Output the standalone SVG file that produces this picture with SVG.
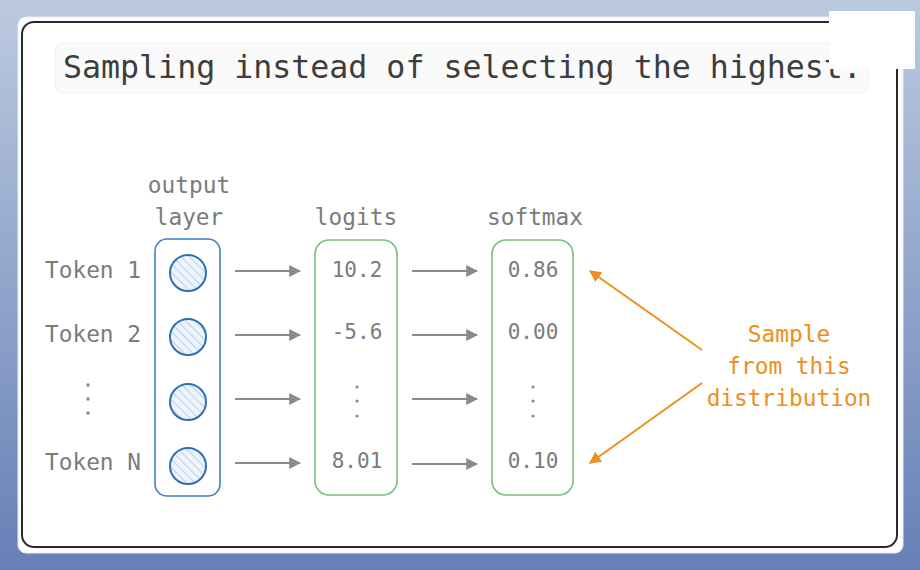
<svg xmlns="http://www.w3.org/2000/svg" width="920" height="570" viewBox="0 0 920 570">
<defs>
<linearGradient id="bg" x1="0" y1="0" x2="0" y2="1">
<stop offset="0" stop-color="#bccae0"/>
<stop offset="1" stop-color="#6680b6"/>
</linearGradient>
<pattern id="hatch" patternUnits="userSpaceOnUse" width="6" height="6" patternTransform="rotate(-45)">
<rect width="6" height="6" fill="#eef4fb"/>
<line x1="0" y1="0" x2="0" y2="6" stroke="#a9c7e8" stroke-width="1.6"/>
</pattern>
<marker id="ag" viewBox="0 0 10 10" refX="9" refY="5" markerWidth="6" markerHeight="6" orient="auto" markerUnits="strokeWidth">
<path d="M0,0 L10,5 L0,10 Z" fill="#8a8a8a"/>
</marker>
<marker id="ao" viewBox="0 0 10 10" refX="9" refY="5" markerWidth="6" markerHeight="6" orient="auto" markerUnits="strokeWidth">
<path d="M0,0 L10,5 L0,10 Z" fill="#ec8f1c"/>
</marker>
</defs>
<style>
.lbl{font-family:"DejaVu Sans Mono","Liberation Mono",monospace;font-size:22.8px;fill:#7b7b7b;text-anchor:middle}
.val{font-family:"DejaVu Sans Mono","Liberation Mono",monospace;font-size:21px;fill:#7b7b7b;text-anchor:middle}
.org{font-family:"DejaVu Sans Mono","Liberation Mono",monospace;font-size:22.8px;fill:#ec8f1c;text-anchor:middle}
.dot{fill:#8a8a8a}
.ga{stroke:#8a8a8a;stroke-width:2;fill:none;marker-end:url(#ag)}
.oa{stroke:#ec8f1c;stroke-width:2;fill:none;marker-end:url(#ao)}
.neuron{fill:url(#hatch);stroke:#2f6fb8;stroke-width:2}
.green{fill:none;stroke:#79c07b;stroke-width:1.6}
</style>
<rect width="920" height="570" fill="url(#bg)"/>
<rect x="18" y="17" width="885" height="536" rx="8" fill="#ffffff" stroke="#e6ebf3" stroke-width="1"/>
<rect x="22" y="22" width="875" height="525" rx="12" fill="#ffffff" stroke="#2a2a2a" stroke-width="2"/>

<g id="title">
<rect x="55" y="43" width="813" height="50" rx="8" fill="#fafafa" stroke="#efefef" stroke-width="1"/>
<text x="63" y="78" font-family="DejaVu Sans Mono, Liberation Mono, monospace" font-size="31.6" fill="#3d3d3d">Sampling instead of selecting the highest.</text>
</g>

<g id="tokens">
<text class="lbl" x="93" y="278">Token 1</text>
<text class="lbl" x="93" y="342">Token 2</text>
<circle class="dot" cx="88" cy="385" r="1.8"/>
<circle class="dot" cx="88" cy="399" r="1.8"/>
<circle class="dot" cx="88" cy="413" r="1.8"/>
<text class="lbl" x="93" y="470">Token N</text>
</g>

<g id="output-layer">
<text class="lbl" x="189" y="193">output</text>
<text class="lbl" x="189" y="225">layer</text>
<rect x="155" y="239" width="65" height="257" rx="12" fill="none" stroke="#3d7fc9" stroke-width="1.6"/>
<circle class="neuron" cx="188" cy="273" r="18"/>
<circle class="neuron" cx="188" cy="337" r="18"/>
<circle class="neuron" cx="188" cy="402" r="18"/>
<circle class="neuron" cx="188" cy="466" r="18"/>
</g>

<g id="logits">
<text class="lbl" x="356" y="225">logits</text>
<rect class="green" x="315" y="240" width="82" height="255" rx="14"/>
<text class="val" x="357" y="277">10.2</text>
<text class="val" x="357" y="339">-5.6</text>
<circle class="dot" cx="357" cy="387" r="1.6"/>
<circle class="dot" cx="357" cy="401" r="1.6"/>
<circle class="dot" cx="357" cy="416" r="1.6"/>
<text class="val" x="357" y="468">8.01</text>
</g>

<g id="softmax">
<text class="lbl" x="535" y="225">softmax</text>
<rect class="green" x="492" y="240" width="81" height="255" rx="14"/>
<text class="val" x="533" y="277">0.86</text>
<text class="val" x="533" y="339">0.00</text>
<circle class="dot" cx="533" cy="387" r="1.6"/>
<circle class="dot" cx="533" cy="401" r="1.6"/>
<circle class="dot" cx="533" cy="416" r="1.6"/>
<text class="val" x="533" y="468">0.10</text>
</g>

<g id="note">
<text class="org" x="789" y="342">Sample</text>
<text class="org" x="789" y="374">from this</text>
<text class="org" x="789" y="406">distribution</text>
</g>

<g id="connectors">
<line class="ga" x1="235" y1="271" x2="300" y2="271"/>
<line class="ga" x1="235" y1="335" x2="300" y2="335"/>
<line class="ga" x1="235" y1="399" x2="300" y2="399"/>
<line class="ga" x1="235" y1="463" x2="300" y2="463"/>
<line class="ga" x1="412" y1="271" x2="477" y2="271"/>
<line class="ga" x1="412" y1="335" x2="477" y2="335"/>
<line class="ga" x1="412" y1="399" x2="477" y2="399"/>
<line class="ga" x1="412" y1="464" x2="477" y2="464"/>
<line class="oa" x1="702" y1="350" x2="590" y2="271"/>
<line class="oa" x1="702" y1="383" x2="590" y2="463"/>
</g>

<rect x="829" y="11" width="86" height="58" fill="#ffffff"/>
</svg>
